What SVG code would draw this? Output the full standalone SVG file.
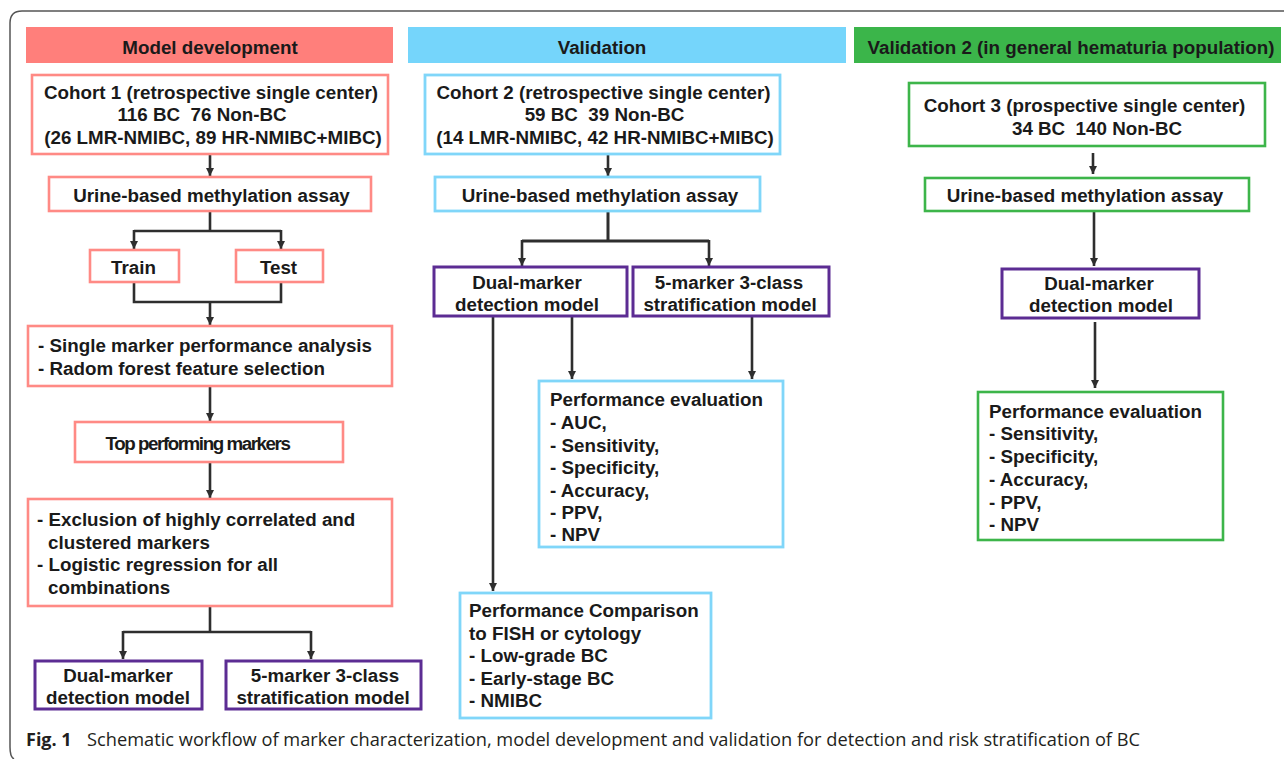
<svg xmlns="http://www.w3.org/2000/svg" width="1284" height="759" viewBox="0 0 1284 759">
<defs>
<style>
text{font-family:"Liberation Sans",Arial,sans-serif;font-weight:bold;font-size:18.8px;fill:#1a1a1a;white-space:pre}
.m{text-anchor:middle}
.box{fill:#fff}
.r{stroke:#ff8a85;stroke-width:2.6}
.b{stroke:#80d6f9;stroke-width:2.8}
.g{stroke:#3db54a;stroke-width:2.6}
.p{stroke:#5c2c93;stroke-width:3}
.ln{fill:none;stroke:#2e2e2e;stroke-width:2.6}
.cap{font-family:"Open Sans","Liberation Sans",sans-serif;font-weight:normal;font-size:18px;fill:#231f20}
</style>
<marker id="ah" viewBox="0 0 10 10" refX="10" refY="5" markerWidth="8" markerHeight="9" markerUnits="userSpaceOnUse" orient="auto">
<path d="M0,0 L10,5 L0,10 z" fill="#2e2e2e"/>
</marker>
</defs>
<rect width="1284" height="759" fill="#fff"/>
<path d="M1284,11 H22 Q10,11 10,23 V747 Q10,757 14,759" fill="none" stroke="#555" stroke-width="1.5"/>

<g id="headers">
<rect x="26" y="27" width="367" height="36" fill="#ff7f7b"/>
<text class="m" x="210" y="53.5">Model development</text>
<rect x="408" y="27" width="438" height="36" fill="#75d5fb"/>
<text class="m" x="602" y="53.5">Validation</text>
<rect x="854" y="27" width="427" height="36" fill="#3bb54a"/>
<text class="m" x="1071" y="53.5">Validation 2 (in general hematuria population)</text>
</g>

<g id="connectors">
<!-- column 1 -->
<line class="ln" x1="210" y1="155" x2="210" y2="176" marker-end="url(#ah)"/>
<path class="ln" d="M210,211 V231 M134,231 H281"/>
<line class="ln" x1="134" y1="230" x2="134" y2="249" marker-end="url(#ah)"/>
<line class="ln" x1="281" y1="230" x2="281" y2="249" marker-end="url(#ah)"/>
<path class="ln" d="M134,282 V302 H281 V282"/>
<line class="ln" x1="210" y1="302" x2="210" y2="325" marker-end="url(#ah)"/>
<line class="ln" x1="210" y1="386" x2="210" y2="421" marker-end="url(#ah)"/>
<line class="ln" x1="210" y1="462" x2="210" y2="498" marker-end="url(#ah)"/>
<path class="ln" d="M210,606 V632 M123,632 H311"/>
<line class="ln" x1="123" y1="631" x2="123" y2="659" marker-end="url(#ah)"/>
<line class="ln" x1="311" y1="631" x2="311" y2="659" marker-end="url(#ah)"/>
<!-- column 2 -->
<line class="ln" x1="608" y1="155" x2="608" y2="176" marker-end="url(#ah)"/>
<path class="ln" d="M608,211 V241 M522,241 H709" style="stroke-width:3"/>
<line class="ln" x1="522" y1="240" x2="522" y2="266" marker-end="url(#ah)"/>
<line class="ln" x1="709" y1="240" x2="709" y2="266" marker-end="url(#ah)"/>
<line class="ln" x1="493" y1="316" x2="493" y2="591" marker-end="url(#ah)"/>
<line class="ln" x1="572" y1="316" x2="572" y2="379" marker-end="url(#ah)"/>
<line class="ln" x1="752" y1="316" x2="752" y2="379" marker-end="url(#ah)"/>
<!-- column 3 -->
<line class="ln" x1="1093" y1="153" x2="1093" y2="174" marker-end="url(#ah)"/>
<line class="ln" x1="1094" y1="211" x2="1094" y2="266" marker-end="url(#ah)"/>
<line class="ln" x1="1095" y1="322" x2="1095" y2="388" marker-end="url(#ah)"/>
</g>

<g id="cohort1">
<rect class="box r" x="32" y="75" width="356" height="79"/>
<text class="m" x="211" y="98.5">Cohort 1 (retrospective single center)</text>
<text class="m" x="202" y="121">116 BC  76 Non-BC</text>
<text class="m" x="213" y="143.5">(26 LMR-NMIBC, 89 HR-NMIBC+MIBC)</text>
</g>
<g id="urine1">
<rect class="box r" x="49" y="177" width="322" height="34"/>
<text class="m" x="211.5" y="201.5">Urine-based methylation assay</text>
</g>
<g id="train">
<rect class="box r" x="90" y="250" width="89" height="32"/>
<text class="m" x="133.5" y="273.5">Train</text>
</g>
<g id="test">
<rect class="box r" x="236" y="250" width="87" height="32"/>
<text class="m" x="278.5" y="273.5">Test</text>
</g>
<g id="single-marker">
<rect class="box r" x="28" y="326" width="364" height="60"/>
<text x="38" y="352">- Single marker performance analysis</text>
<text x="38" y="375">- Radom forest feature selection</text>
</g>
<g id="top-performing">
<rect class="box r" x="75" y="422" width="268" height="40"/>
<text class="m" x="197.5" y="450" style="letter-spacing:-1.45px">Top performing markers</text>
</g>
<g id="exclusion">
<rect class="box r" x="28" y="499" width="364" height="107"/>
<text x="37" y="525.5">- Exclusion of highly correlated and</text>
<text x="48" y="548.5">clustered markers</text>
<text x="37" y="571">- Logistic regression for all</text>
<text x="48" y="593.5">combinations</text>
</g>
<g id="dual1">
<rect class="box p" x="35" y="661" width="167" height="48"/>
<text class="m" x="118" y="681.5">Dual-marker</text>
<text class="m" x="118" y="703.5">detection model</text>
</g>
<g id="five1">
<rect class="box p" x="226" y="661" width="195" height="48"/>
<text class="m" x="325" y="681.5">5-marker 3-class</text>
<text class="m" x="323" y="703.5">stratification model</text>
</g>

<g id="cohort2">
<rect class="box b" x="425" y="75" width="355" height="79"/>
<text class="m" x="603.5" y="98.5">Cohort 2 (retrospective single center)</text>
<text class="m" x="604.5" y="121">59 BC  39 Non-BC</text>
<text class="m" x="605" y="143.5">(14 LMR-NMIBC, 42 HR-NMIBC+MIBC)</text>
</g>
<g id="urine2">
<rect class="box b" x="435" y="177" width="325" height="34"/>
<text class="m" x="600" y="201.5">Urine-based methylation assay</text>
</g>
<g id="dual2">
<rect class="box p" x="434" y="267" width="193" height="49"/>
<text class="m" x="527" y="288.5">Dual-marker</text>
<text class="m" x="527" y="310.5">detection model</text>
</g>
<g id="five2">
<rect class="box p" x="633" y="267" width="196" height="49"/>
<text class="m" x="729" y="288.5">5-marker 3-class</text>
<text class="m" x="730" y="310.5">stratification model</text>
</g>
<g id="perf-eval2">
<rect class="box b" x="539" y="381" width="244" height="166"/>
<text x="550" y="406">Performance evaluation</text>
<text x="550" y="429">- AUC,</text>
<text x="550" y="451.5">- Sensitivity,</text>
<text x="550" y="474">- Specificity,</text>
<text x="550" y="496.5">- Accuracy,</text>
<text x="550" y="519">- PPV,</text>
<text x="550" y="541">- NPV</text>
</g>
<g id="perf-compare">
<rect class="box b" x="460" y="593" width="251" height="125"/>
<text x="469" y="616.5">Performance Comparison</text>
<text x="469" y="639.5">to FISH or cytology</text>
<text x="469" y="661.5">- Low-grade BC</text>
<text x="469" y="684.5">- Early-stage BC</text>
<text x="469" y="706.5">- NMIBC</text>
</g>

<g id="cohort3">
<rect class="box g" x="909" y="83" width="356" height="63"/>
<text class="m" x="1084.5" y="112">Cohort 3 (prospective single center)</text>
<text class="m" x="1097" y="135">34 BC  140 Non-BC</text>
</g>
<g id="urine3">
<rect class="box g" x="925" y="178" width="324" height="33"/>
<text class="m" x="1085" y="201.5">Urine-based methylation assay</text>
</g>
<g id="dual3">
<rect class="box p" x="1002" y="269" width="197" height="49"/>
<text class="m" x="1099" y="289.5">Dual-marker</text>
<text class="m" x="1101" y="311.5">detection model</text>
</g>
<g id="perf-eval3">
<rect class="box g" x="978" y="392" width="245" height="148"/>
<text x="989" y="417.5">Performance evaluation</text>
<text x="989" y="440">- Sensitivity,</text>
<text x="989" y="463">- Specificity,</text>
<text x="989" y="486">- Accuracy,</text>
<text x="989" y="508.5">- PPV,</text>
<text x="989" y="531">- NPV</text>
</g>

<g id="caption">
<text class="cap" x="26" y="746"><tspan style="font-weight:bold">Fig. 1</tspan></text>
<text class="cap" x="87" y="746" textLength="1053" lengthAdjust="spacingAndGlyphs">Schematic workflow of marker characterization, model development and validation for detection and risk stratification of BC</text>
</g>
</svg>
